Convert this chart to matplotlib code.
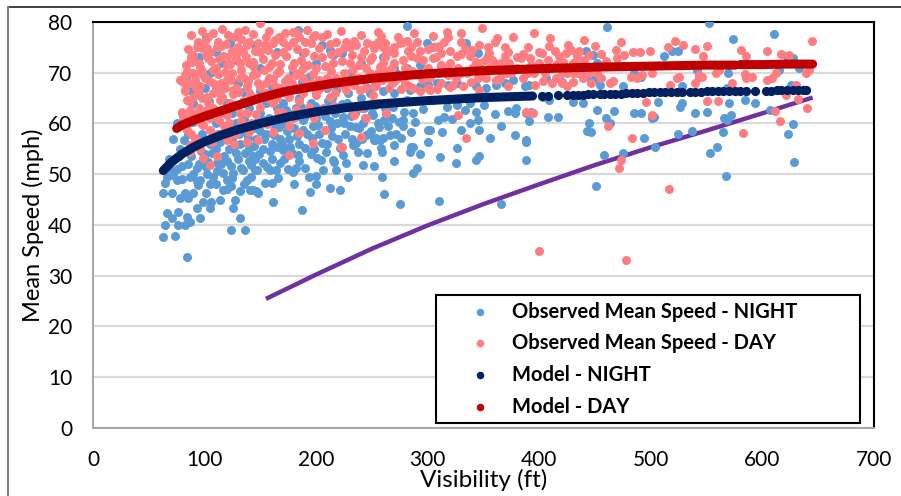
import matplotlib
matplotlib.use("Agg")
import matplotlib.pyplot as plt
from matplotlib.patches import Rectangle
from matplotlib.lines import Line2D
import numpy as np

plt.rcParams['font.family'] = ['Lato', 'DejaVu Sans']

# ---------------- data ----------------
night_obs = [
    (461,79.1),(552,79.9),(574,76.7),(610,77.6),(512,73.2),(519,74.2),(524,74.2),(485,70.0),(491,69.2),
    (454,67.6),(475,67.3),(528,67.3),(541,70.6),(543,69.2),(569,69.9),(568,67.0),(570,64.0),(584,64.6),
    (593,64.0),(622,73.2),(627,72.9),(615,70.6),(633,70.9),(626,67.6),(506,64.3),(526,63.3),(528,64.0),
    (485,62.1),(491,62.1),(467,62.5),(460,61.1),(501,61.1),(503,61.3),(540,62.1),(550,62.3),(566,61.1),
    (568,60.7),(572,61.7),(607,62.7),(627,59.9),(623,58.0),(494,57.1),(504,55.4),(524,58.0),(537,58.6),
    (565,58.3),(559,55.4),(553,54.2),(475,54.2),(458,53.7),(567,49.7),(628,52.4),
    (451,47.7),(445,60.0),(443,58.5),(442,74.2),(448,73.5),(448,68.6),
    (252,51.6),(259,49.4),(261,46.1),(275,44.1),(310,44.8),(366,44.1),(388,52.8),(388,56.4),(343,52.8),
    (346,53.6),(326,55.1),(311,53.3),(287,50.2),(290,51.2),(284,54.4),(287,55.3),(293,54.0),(270,55.8),
    (259,54.4),(252,56.7),(257,56.7),
    (281,79.2),(299,75.9),(306,75.1),(334,75.8),(335,74.8),(345,73.8),(354,73.2),(312,71.2),(293,71.5),
    (452,71.9),(458,71.5),(369,67.9),(376,68.6),(387,67.3),(391,67.6),(406,68.9),(420,68.2),(439,69.9),
    (446,68.6),(403,65.3),(409,64.6),(379,63.0),(378,62.0),(388,62.0),(393,62.3),(391,60.4),(408,61.3),
    (417,61.2),(430,64.3),(439,64.0),(452,62.7),(463,60.0),(446,58.4),(378,57.7),(388,56.7),(330,58.7),
    (338,60.0),(343,62.3),(345,60.7),(346,58.7),(315,61.3),(309,60.7),(302,58.7),(285,58.4),(278,60.7),
    (278,59.4),(261,60.7),(264,59.4),(254,57.1),(260,57.1),(317,63.3),(326,63.6),(338,64.0),(287,62.0),
    (279,62.3),(248,66.0),(260,66.3),(270,66.0),(284,66.6),(293,67.3),(300,67.6),(308,67.9),(318,67.6),
    (326,67.9),(343,67.3),(352,66.9),(361,67.6),(281,70.9),(272,69.9),(300,58.7),(285,55.4),
    (184,78.4),(145,75.5),(205,75.5),(212,74.5),(188,73.8),(215,73.5),(223,73.8),(179,70.2),(187,68.2),
    (194,69.2),(221,68.2),(218,66.6),(152,60.7),(170,60.0),(188,60.7),(197,59.4),(212,60.4),(224,61.3),
    (230,59.4),(242,60.0),(251,61.7),
    (143.5,46.9),(148,46.2),(160,48.2),(166,49.2),(161.5,44.6),(187,42.9),(194.5,46.5),(212,47.2),
    (221,46.9),(245,57.7),(252.5,56.7),(236,56.1),(237.5,54.4),(224,53.8),(215,52.8),(204.7,52.8),
    (206,50.8),(218,50.8),(190,51.2),(185,52.5),(178,54.1),(170.4,54.7),(164.5,55.4),(167.4,52.1),
    (158.5,50.8),(152.5,52.1),(146.6,50.8),(142,49.5),(154,48.2),
    (64.5,48.2),(63,46.2),(70.4,46.2),(74.9,48.9),(82.4,46.2),(86.8,49.5),(89.8,46.2),(94.3,47.8),
    (101.7,46.2),(106.2,44.6),(113.7,44.9),(116.6,46.9),(124.1,47.6),(131.6,46.6),(140.5,46.9),
    (146.5,46.6),(77.9,45.2),(85.4,45.2),(98.8,44.6),(104.7,43.3),(92.8,43.3),(127.1,44.9),(125.6,43.3),
    (131.6,41.3),(124.1,39.0),(136.1,39.0),(83.9,41.6),(76.4,42.6),(66,42.3),(70.4,41.3),(64.5,40.0),
    (76.4,40.0),(82.4,40.0),(86.8,40.6),(95.8,41.3),(63,37.7),(73.4,37.8),(83.9,33.7),
    (110.7,52.1),(119.7,52.5),(128.6,54.1),(137.6,56.1),(143.6,53.5),(116.6,50.2),(125.6,50.2),
    (134.6,50.8),(145,50.8),(101.7,51.5),(107.7,49.5),(119.7,48.8),(137.6,48.8),(95.8,48.8),
    (101.7,77.1),(83.9,69.6),(86.8,66.6),(115.2,71.9),(128.6,72.5),(122.6,75.8),
    (95,52),(100,54),(105,56),(110,55),(112,58),(118,57),(122,55),(125,57),(128,60),(132,56),(135,61),
    (138,58),(140,55),(143,59),(146,57),(150,62),(152,55),(155,58),(158,61),(160,56),(163,59),(165,63),
    (168,57),(172,60),(175,62),(176,57),(180,59),(182,63),(185,56),(189,61),(192,58),(195,64),(198,55),
    (200,61),(203,58),(207,63),(210,56),(213,59),(217,62),(220,57),(225,60),(228,64),(232,57),(235,62),
    (238,59),(243,63),(247,58),(250,62),(255,60),(262,63),(268,61),(272,58),(240,65),(229,66),(214,65),
    (200,66),(185,65),(170,64),(155,64),(140,63),(125,62),(110,60),(98,58),(92,56),(102,50),(115,52),
    (130,53),(145,53),(160,53),(175,51),(195,54),(180,48),(200,48),(135,48),(120,47),(105,48),(90,50),
    (80,49),(85,52),(75,51),
    (95,73),(105,70),(130,68),(150,71),(165,74),(200,72),(230,70),(240,72),(260,73),(270,71),(160,67),
    (110,74),(100,67),(90,64),(80,62),(140,66),(120,64),(75,60),(85,58),(78,55),(72,57),(68,53),
    (88,53.5),(93,51.2),(97,54.6),(103,52.3),(107,54.1),(111,50.6),(114,56.4),(117,53.6),(121,58.8),
    (124,51.6),(127,55.8),(131,58.0),(133,51.3),(136,54.2),(139,57.1),(142,51.8),(144,55.6),(147,60.2),
    (149,53.9),(153,56.9),(156,51.4),(157,60.2),(159,54.6),(162,57.7),(164,50.9),(167,59.3),(169,55.9),
    (171,52.9),(173,62.6),(174,58.6),(177,55.3),(179,50.5),(181,61.3),(183,57.6),(184,53.7),(186,63.3),
    (188,58.8),(190,55.1),(192,61.8),(194,49.5),(196,57.1),(199,63.4),(201,53.1),(202,59.6),(205,56.2),
    (208,61.4),(209,54.3),(211,64.4),(214,57.5),(216,52.3),(219,60.1),(221,55.2),(223,63.8),(226,57.9),
    (227,52.1),(231,61.5),(233,55.8),(236,59.2),(239,63.2),(241,56.9),(244,61.0),(246,54.2),(249,58.6),
    (253,63.6),(256,59.3),(258,55.1),(263,61.9),(266,57.8),(269,63.3),(274,60.2),(276,57.1),(281,64.6),
    (289,60.2),(296,62.8),(305,64.6),(313,58.3),(322,60.8),(333,62.7),(350,63.7),(360,61.8),(366,59.4),
    (372,62.4),(356,57.2),(325,52.1),(300,56.4),(270,52.6),(242,51.8),(229,49.5),(200,49.6),(182,51.3),
    (93,48.7),(110,48.0),(125,49.2),(140,52.6),(150,58.5),(98,62.4),(104,64.4),(118,62.8),(134,66.2),
    (90,60.2),(82,56.7),(77,53.6),(72,49.9),(68,51.2),(66,49.4),(80,51.6),(83,60.6),(95,65.6),(110,66.7),
    (150,66.4),(175,66.7),(210,66.9),(245,67.2),(270,68.4),
]

day_obs = [
    (644,76.3),(473,76.1),(469,74.5),(484,74.1),(490,74.1),(499,74.2),(515,75.1),(522,76.2),(529,75.5),
    (540,74.6),(550,75.3),(547,73.2),(581,74.4),(585,73.2),(604,74.2),(617,73.7),(624,73.5),(476,73.5),
    (470,72.9),(460,72.4),(501,69.9),(492,69.6),(482,69.2),(488,68.9),(463,68.0),(466,68.3),(517,67.6),
    (523,68.9),(525,69.2),(543,69.6),(546,69.2),(540,67.9),(558,69.9),(561,70.6),(573,67.9),(585,69.0),
    (591,69.2),(604,68.6),(609,68.9),(612,69.9),(584,69.8),(639,69.9),(642,70.6),(630,67.6),(632,64.8),
    (640,63.1),(621,65.6),(550,64.4),(560,64.4),(611,62.5),(616,60.5),(496,64.3),(501,61.7),(462,59.5),
    (483,57.2),(583,58.1),(473,52.7),(471,51.2),
    (440,76.5),(516,47.1),(400,34.9),(478,33.0),
    (349,78.8),(317,78.1),(318,77.1),(315,76.1),(273,77.1),(376,77.1),(278,76.1),(285,75.1),(251,75.5),
    (260,75.1),(266,74.5),(270,73.8),(346,75.5),(354,75.1),(369,75.0),(409,75.3),(414,74.2),(426,75.5),
    (428,74.5),(436,74.2),(402,73.8),(385,73.7),(384,72.9),(293,74.2),(290,72.9),(296,72.5),(312,73.8),
    (320,74.2),(326,73.2),(338,73.2),(343,72.2),(351,72.5),(358,72.5),(369,73.2),(366,71.9),(418,73.2),
    (421,72.2),(445,73.5),(257,71.2),(266,70.6),(275,69.2),(302,68.9),(312,67.9),(323,67.6),(332,67.3),
    (339,68.2),(352,68.9),(361,68.6),(411,67.9),(420,67.9),(430,68.2),(388,62.3),(394,62.1),(334.5,57.1),
    (327,61.7),(287,66.9),(293,66.3),(302,66.6),(252,67.3),(251,65.6),(439,68.9),(446,67.9),(430,71.9),
    (434,73.2),
    (182,78.1),(197,77.1),(281,76.3),(222.6,55.4),(197,56.1),(176,53.8),
    (149.5,79.8),(179,78.1),(185,77.1),(199,77.5),(179,76.1),(167,77.1),(161,75.8),(154,75.5),(218,76.1),
    (227,76.1),(236,75.5),(246,75.8),(149.5,63.3),(161,64.0),(176,65.3),(188,66.0),(200,65.6),(212,65.3),
    (227,66.6),(239,66.6),(254,67.3),(170,62.0),(182,62.7),(194,63.3),(206,63.0),(176,59.4),(209,62.7),
    (245,61.0),(161.5,58.4),(223,55.3),
    (86.8,55.8),(98.8,53.1),(104.7,51.8),(110.7,53.5),(137.6,56.4),(121.2,57.1),(86.8,54.4),
    (136,78.4),(121,77.5),(103,77.1),(94.3,76.1),(97.3,74.8),(110.7,75.1),(137.6,75.5),(145,74.2),
    (89.8,73.5),(86.8,72.2),(103.2,72.9),(116.6,73.2),(128.6,73.8),(82.4,69.6),(80.8,68.2),(86.8,67.9),
    (82.4,66.3),(95.8,69.9),(107.7,70.6),(119.7,71.6),(131.6,71.9),(143.6,72.2),(95.8,67.3),(107.7,67.9),
    (119.7,68.6),(131.6,68.9),(143.6,69.6),(89.8,65.3),(101.8,65.3),(113.7,66.0),(125.6,66.6),(137.6,67.3),
    (86.8,62.7),(80.8,61.3),(95.8,62.7),(89.8,60.7),(101.8,62.0),(83.9,58.7),
    (77.9,68.6),(88.4,72.2),(82.4,66.6),(83.9,64.6),(79.4,62.3),(86.8,61.3),(101.8,62.7),(104.7,58.7),
    (113.7,64.6),(125.6,65.9),(131.6,62.0),(119.7,56.8),
    (90,70),(95,72),(100,69),(105,74),(110,71),(115,68),(120,73),(125,70),(130,75),(135,69),(140,72),
    (145,70),(150,74),(155,68),(160,72),(165,70),(170,74),(175,69),(180,72),(185,70),(190,74),(195,68),
    (200,71),(205,73),(210,69),(215,72),(220,74),(225,70),(230,72),(235,69),(240,73),(245,71),(250,73),
    (255,70),(260,72),(265,69),(270,72),(280,71),(290,70),(300,71),(310,70),(320,72),(330,70),(340,71),
    (350,70),(360,71),(370,70),(380,71),(390,70),(400,72),(410,71),(420,70),(430,70),(440,71),(92,67),
    (98,65),(108,66),(118,67),(128,67),(138,67),(148,68),(158,69),(168,67),(178,68),(188,69),(198,67),
    (208,68),(218,69),(228,68),(238,69),(248,70),(112,76),(126,77),(140,76),(155,77),(170,76),(190,76),
    (205,77),(230,75),(255,76),(270,75),(290,76),(305,75),(330,76),(360,76),(390,75),(95,63),(105,61),
    (115,62),(122,60),(135,64),(145,65),(155,66),(165,65),(97,60),(88,58),(93,56),(112,58),(128,58),
    (142,60),(138,62),
    (305,70),(315,71),(325,69),(335,70),(345,69),(355,71),(365,69),(375,70),(385,69),(395,70),(405,70),
    (415,69),(425,70),(435,70),(445,70),(360,72),(380,73),(400,74),(300,67),(280,68),(265,67),
    (263,62),(255,64),(240,63),(230,63),
    (88,77.5),(98,78.2),(108,77.8),(116,78.6),(130,78.0),(143,77.6),(158,78.3),(172,77.9),(192,78.5),
    (210,77.7),(222,78.2),(240,77.4),(258,77.2),(100,76.3),(115,75.2),(125,74.3),(133,76.6),
    (85,74.6),(93,75.1),(102,74.9),(119,75.6),(134,74.1),(148,75.9),(157,74.4),(163,76.4),(175,75.3),
    (183,74.6),(195,75.8),(203,74.8),(212,75.6),(225,74.9),(234,76.3),(243,74.3),(252,74.9),(262,75.8),
    (275,75.8),(300,74.6),(310,75.2),(340,74.4),
    (83,71.5),(88,73.0),(96,71.2),(101,73.4),(106,72.3),(113,72.8),(123,71.8),(128,72.9),(137,73.1),
    (143,71.4),(152,72.8),(158,71.1),(163,73.4),(168,71.8),(173,73.2),(178,71.1),(186,72.6),(193,71.5),
    (198,73.2),(208,71.4),(213,73.6),(223,72.3),(232,73.4),(238,71.5),(248,72.5),(258,71.3),(263,73.9),
    (278,72.5),(285,73.3),(305,72.9),(330,73.6),
    (84,70.3),(91,68.6),(98,70.4),(104,68.3),(112,69.7),(118,70.2),(124,68.6),(133,70.6),(139,68.4),
    (146,69.8),(153,70.5),(161,68.8),(167,70.3),(172,68.4),(182,69.6),(188,70.9),(197,69.7),(203,68.6),
    (213,70.3),(218,68.2),(226,69.7),(233,70.7),(242,68.7),(253,68.6),(262,70.4),(272,68.8),(285,69.8),
    (295,68.8),(318,69.6),
    (87,64.3),(94,66.4),(103,64.1),(110,67.6),(116,65.3),(123,64.0),(130,66.1),(134,64.5),(141,65.6),
    (150,67.2),(157,65.0),(163,67.4),(172,66.0),(180,67.2),(185,64.4),(192,67.6),(203,66.8),(210,67.3),
    (217,66.0),(222,67.5),(234,67.6),(244,66.9),(259,68.5),(268,67.9),(276,66.8),
    (85,60.1),(92,61.6),(99,59.7),(108,63.1),(113,60.6),(120,61.6),(126,63.6),(133,60.5),(146,61.9),
    (151,60.1),(166,62.3),(179,61.0),(190,62.2),(198,61.0),(216,63.5),(234,61.6),(250,64.1),
    (91,57.2),(96,55.0),(107,56.3),(117,59.4),(126,55.9),(140,58.4),(148,56.7),(156,59.8),(185,58.2),
    (208,58.8),(240,57.4),
    (255,78.1),(288,77.8),(305,77.2),(330,77.9),(362,76.9),(395,77.9),(410,76.9),(450,75.2),(455,73.6),
    (262,73.0),(282,74.3),(307,73.1),(333,74.6),(355,73.8),(372,74.1),(392,72.9),(408,72.6),(424,73.8),
    (440,72.6),(268,71.0),(286,70.3),(312,71.6),(327,71.0),(347,72.0),(373,72.0),(393,71.5),(416,71.8),
    (435,71.6),(452,70.0),(283,67.4),(308,66.8),(320,67.2),(346,66.6),(372,67.3),(396,67.6),(403,68.3),
    (425,67.3),(455,69.0),
]

# model curves (continuous stretches; nan = break)
night_model_x = [63, 70, 80, 90, 100, 115, 130, 150, 175, 200, 230, 260, 300, 350, 394]
night_model_y = [50.7, 52.3, 54.0, 55.3, 56.4, 57.7, 58.8, 60.0, 61.3, 62.3, 63.2, 63.9, 64.5, 65.1, 65.4]
# separate model dots further right
night_dot_x = [402, 408, 417, 425, 430, 435, 439, 444, 448, 454, 458, 463, 468, 473, 478, 483, 488, 493,
               498, 503, 508, 513, 518, 523, 528, 535, 540, 545, 550, 555, 560, 565, 570, 575, 580, 585,
               593, 603, 608, 613, 617, 622, 627, 632, 636, 639]
night_dot_y = [65.5, 65.5, 65.6, 65.6, 65.7, 65.7, 65.7, 65.8, 65.8, 65.8, 65.9, 65.9, 65.9, 65.9, 66.0,
               66.0, 66.0, 66.0, 66.1, 66.1, 66.1, 66.1, 66.1, 66.2, 66.2, 66.2, 66.2, 66.2, 66.3, 66.3,
               66.3, 66.3, 66.3, 66.3, 66.4, 66.4, 66.4, 66.4, 66.4, 66.5, 66.5, 66.5, 66.5, 66.5, 66.5, 66.5]

day_model_x = [75, 80, 90, 100, 115, 130, 150, 170, 190, 215, 250, 300, 350, 400, 450, 500, 550, 576,
               np.nan, 580, 600, 620, 645]
day_model_y = [59.0, 59.7, 60.6, 61.4, 62.5, 63.6, 65.0, 66.2, 67.0, 67.9, 68.9, 69.8, 70.4, 70.8, 71.1,
               71.3, 71.5, 71.5, np.nan, 71.6, 71.6, 71.7, 71.7]

purple_x = [155, 200, 250, 300, 350, 400, 450, 500, 550, 600, 645]
purple_y = [25.4, 30.2, 35.3, 39.9, 44.1, 48.0, 51.8, 55.3, 58.6, 62.0, 65.1]

legend_labels = ["Observed Mean Speed - NIGHT", "Observed Mean Speed - DAY", "Model - NIGHT", "Model - DAY"]
x_ticks = [0, 100, 200, 300, 400, 500, 600, 700]
y_ticks = [0, 10, 20, 30, 40, 50, 60, 70, 80]

# colours
c_night = '#5B9BD5'
c_day = '#FF7C80'
c_nmodel = '#002060'
c_dmodel = '#C00000'
c_purple = '#7030A0'

# ---------------- figure ----------------
W, H = 901, 496
fig = plt.figure(figsize=(W / 100, H / 100), dpi=100)
L, R, T, B = 93, 874, 22, 427.7
ax = fig.add_axes([L / W, 1 - B / H, (R - L) / W, (B - T) / H])

ax.set_xlim(0, 700)
ax.set_ylim(0, 80)
ax.set_xticks(x_ticks)
ax.set_yticks(y_ticks)
ax.tick_params(length=0, labelsize=15, colors='#000000')
ax.tick_params(axis='x', pad=16)
ax.tick_params(axis='y', pad=15)
ax.yaxis.grid(True, color='#D9D9D9', lw=1.6, zorder=0)
ax.set_axisbelow(True)

for s in ['left', 'bottom']:
    ax.spines[s].set_color('#A6A6A6')
    ax.spines[s].set_linewidth(1.4)
for s in ['top', 'right']:
    ax.spines[s].set_color('#000000')
    ax.spines[s].set_linewidth(1.5)

ax.set_xlabel("Visibility (ft)", fontsize=17.5, labelpad=-1)
ax.set_ylabel("Mean Speed (mph)", fontsize=17, labelpad=3)

# purple curve (below points)
ax.plot(purple_x, purple_y, color=c_purple, lw=3.2, zorder=2, solid_capstyle='butt')

nx, ny = zip(*night_obs)
dx, dy = zip(*day_obs)
ax.scatter(nx, ny, s=42, color=c_night, linewidths=0, zorder=3)
ax.scatter(dx, dy, s=42, color=c_day, linewidths=0, zorder=4)

ax.plot(night_model_x, night_model_y, color=c_nmodel, lw=6.5, solid_capstyle='round', zorder=5)
ax.scatter(night_dot_x, night_dot_y, s=44, color=c_nmodel, linewidths=0, zorder=5)
ax.plot(day_model_x, day_model_y, color=c_dmodel, lw=6.5, solid_capstyle='round', zorder=6)

# legend (manual box to match placement)
def ax_x(px):
    return (px - L) / (R - L)

def ax_y(py):
    return (B - py) / (B - T)

box = Rectangle((ax_x(435.7), ax_y(422.7)), ax_x(860) - ax_x(435.7), ax_y(295) - ax_y(422.7),
                transform=ax.transAxes, facecolor='white', edgecolor='black', lw=1.5, zorder=10)
ax.add_patch(box)
rows_py = [311.7, 343.0, 375.0, 406.7]
cols = [c_night, c_day, c_nmodel, c_dmodel]
for py, col, lab in zip(rows_py, cols, legend_labels):
    ax.add_line(Line2D([ax_x(480)], [ax_y(py)], marker='o', ms=4.4, color=col, lw=0,
                       transform=ax.transAxes, zorder=11))
    ax.text(ax_x(511.7), ax_y(py), lab, transform=ax.transAxes, fontsize=14.5, fontweight='bold',
            va='center', ha='left', zorder=11)

# outer chart border (cropped)
fig.add_artist(Line2D([8 / W, 1], [1 - 7 / H, 1 - 7 / H], transform=fig.transFigure, color='#202020', lw=1.2))
fig.add_artist(Line2D([8 / W, 8 / W], [0, 1 - 7 / H], transform=fig.transFigure, color='#7F7F7F', lw=1.5))

fig.savefig("out.png", dpi=100)
